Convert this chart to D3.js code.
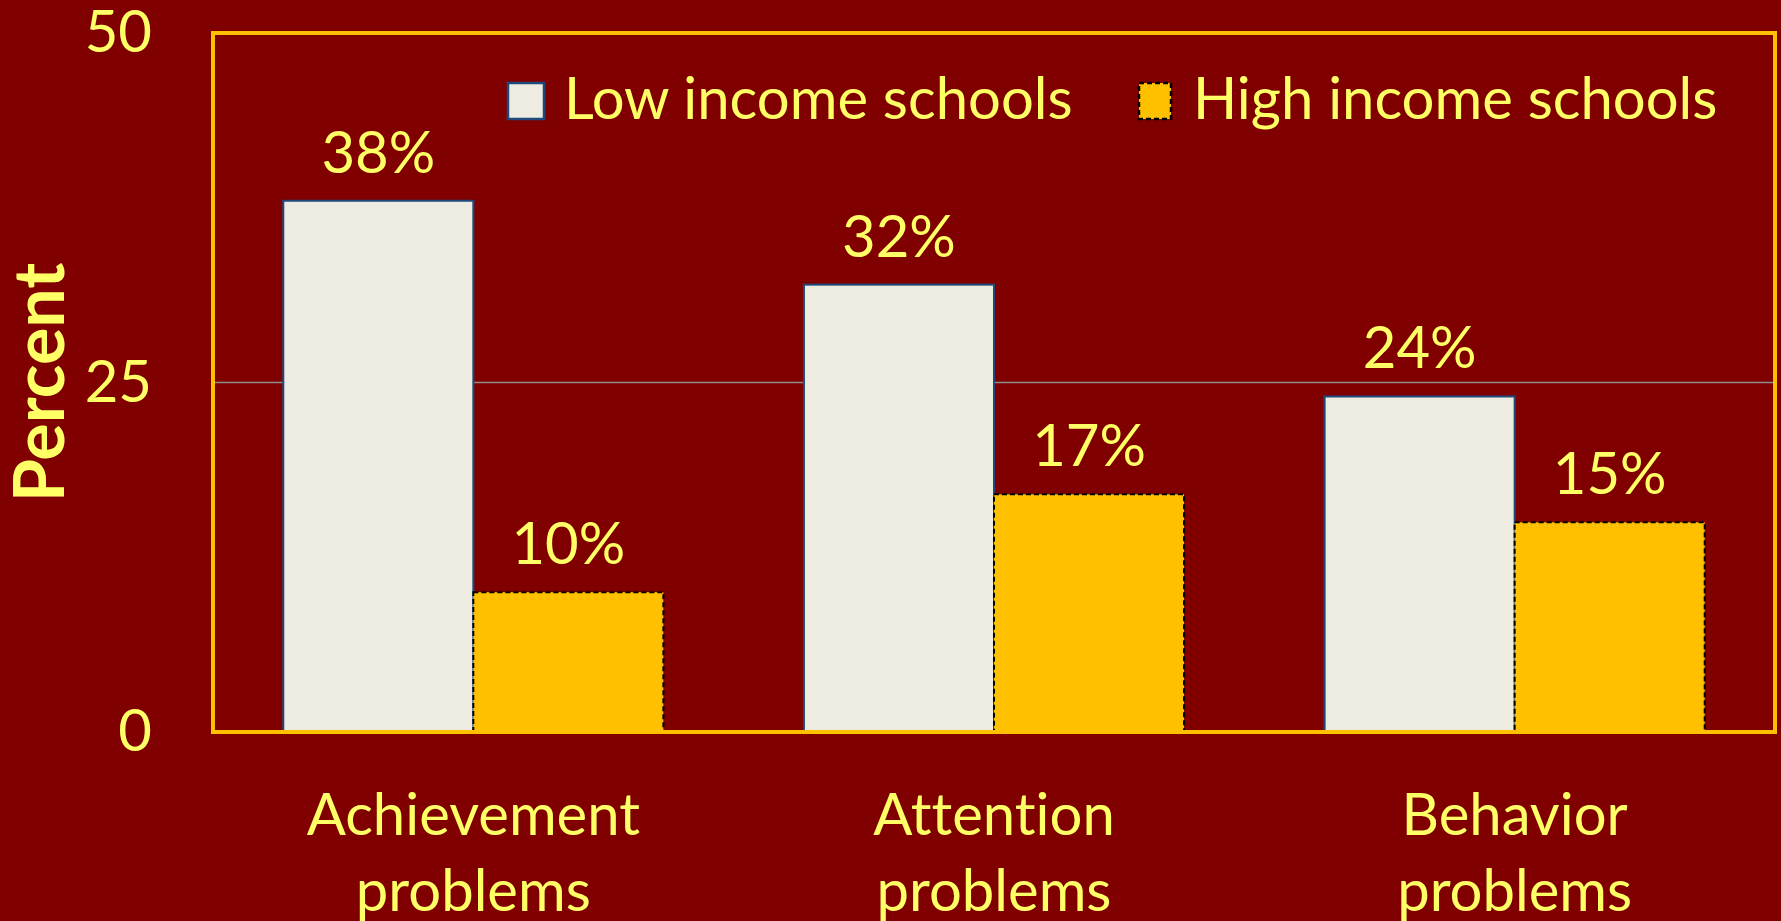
<!DOCTYPE html>
<html>
<head>
<meta charset="utf-8">
<script src="https://d3js.org/d3.v7.min.js"></script>
<style>
  html, body { margin: 0; padding: 0; background: #800000; overflow: hidden; }
  svg text { font-family: Lato, "Open Sans", sans-serif; fill: #FFFF66; font-variant-ligatures: none; font-feature-settings: "liga" 0; }
</style>
</head>
<body>
<svg id="chart" width="1781" height="921"></svg>
<script>
// chart data
var categories = ["Achievement problems", "Attention problems", "Behavior problems"];
var seriesNames = ["Low income schools", "High income schools"];
var lowIncome = [38, 32, 24];
var highIncome = [10, 17, 15];
var yTicks = [0, 25, 50];

var svg = d3.select("svg#chart");
var width = +svg.attr("width"),
    height = +svg.attr("height");

svg.append("rect")
  .attr("width", width)
  .attr("height", height)
  .attr("fill", "#800000");

var plotLeft = 213, plotRight = 1775, plotTop = 33, plotBottom = 732;
var fontSize = "58px";

var x = d3.scaleBand()
  .domain(categories)
  .range([plotLeft, plotRight])
  .paddingInner(0.27)
  .paddingOuter(0.135);

var xSeries = d3.scaleBand()
  .domain(seriesNames)
  .range([0, x.bandwidth()]);

var y = d3.scaleLinear()
  .domain([0, 50])
  .range([plotBottom, plotTop]);

// gridline at 25
svg.append("g")
  .selectAll("line")
  .data(yTicks.filter(function(d) { return d > 0 && d < 50; }))
  .enter().append("line")
    .attr("x1", plotLeft).attr("x2", plotRight)
    .attr("y1", function(d) { return y(d); })
    .attr("y2", function(d) { return y(d); })
    .attr("stroke", "#8c8c8c")
    .attr("stroke-width", 1.5);

var rows = categories.map(function(c, i) {
  return { cat: c, values: [
    { key: seriesNames[0], value: lowIncome[i] },
    { key: seriesNames[1], value: highIncome[i] }
  ]};
});

var styles = {
  "Low income schools": { fill: "#EEECE1", stroke: "#1F497D", dash: null, w: 2 },
  "High income schools": { fill: "#FFC000", stroke: "#000000", dash: "5,3", w: 2 }
};

var groups = svg.append("g").selectAll("g.group")
  .data(rows)
  .enter().append("g")
    .attr("class", "group")
    .attr("transform", function(d) { return "translate(" + x(d.cat) + ",0)"; });

groups.selectAll("rect")
  .data(function(d) { return d.values; })
  .enter().append("rect")
    .attr("x", function(d) { return xSeries(d.key); })
    .attr("y", function(d) { return y(d.value); })
    .attr("width", xSeries.bandwidth())
    .attr("height", function(d) { return y(0) - y(d.value); })
    .attr("fill", function(d) { return styles[d.key].fill; })
    .attr("stroke", function(d) { return styles[d.key].stroke; })
    .attr("stroke-width", function(d) { return styles[d.key].w; })
    .attr("stroke-dasharray", function(d) { return styles[d.key].dash; });

groups.selectAll("text.value")
  .data(function(d) { return d.values; })
  .enter().append("text")
    .attr("class", "value")
    .attr("x", function(d) { return xSeries(d.key) + xSeries.bandwidth() / 2; })
    .attr("y", function(d) { return y(d.value) - 28; })
    .attr("text-anchor", "middle")
    .style("font-size", fontSize)
    .text(function(d) { return d.value + "%"; });

// plot frame
svg.append("rect")
  .attr("x", plotLeft).attr("y", plotTop)
  .attr("width", plotRight - plotLeft).attr("height", plotBottom - plotTop)
  .attr("fill", "none")
  .attr("stroke", "#FFC000")
  .attr("stroke-width", 4);

// y axis
var yAxis = d3.axisLeft(y)
  .tickValues(yTicks)
  .tickSize(0)
  .tickPadding(61);

var yG = svg.append("g")
  .attr("transform", "translate(" + plotLeft + ",0)")
  .call(yAxis);
yG.select(".domain").remove();
yG.selectAll("text")
  .style("font-size", fontSize)
  .style("font-family", "Lato, sans-serif")
  .attr("fill", "#FFFF66");

// y axis title
svg.append("text")
  .attr("transform", "translate(64," + ((plotTop + plotBottom) / 2) + ") rotate(-90)")
  .attr("text-anchor", "middle")
  .style("font-size", "70px")
  .style("font-weight", "bold")
  .text("Percent");

// category labels, two lines each
var catLabels = svg.append("g").selectAll("text.cat")
  .data(categories)
  .enter().append("text")
    .attr("class", "cat")
    .attr("text-anchor", "middle")
    .style("font-size", fontSize)
    .attr("x", function(d) { return x(d) + x.bandwidth() / 2; })
    .attr("y", 835);

catLabels.selectAll("tspan")
  .data(function(d) { return d.split(" "); })
  .enter().append("tspan")
    .attr("x", function() { return d3.select(this.parentNode).attr("x"); })
    .attr("dy", function(d, i) { return i === 0 ? 0 : 76; })
    .text(function(d) { return d; });

// legend
var legendX = [508, 1139];
var legend = svg.append("g").selectAll("g.legend")
  .data(seriesNames)
  .enter().append("g")
    .attr("class", "legend")
    .attr("transform", function(d, i) { return "translate(" + legendX[i] + ",83)"; });

legend.append("rect")
  .attr("width", function(d, i) { return i === 0 ? 36 : 32; })
  .attr("height", 36)
  .attr("fill", function(d) { return styles[d].fill; })
  .attr("stroke", function(d) { return styles[d].stroke; })
  .attr("stroke-width", 2.5)
  .attr("stroke-dasharray", function(d) { return styles[d].dash; });

legend.append("text")
  .attr("x", function(d, i) { return i === 0 ? 56 : 54; })
  .attr("y", 36)
  .style("font-size", fontSize)
  .text(function(d) { return d; });
</script>
</body>
</html>
